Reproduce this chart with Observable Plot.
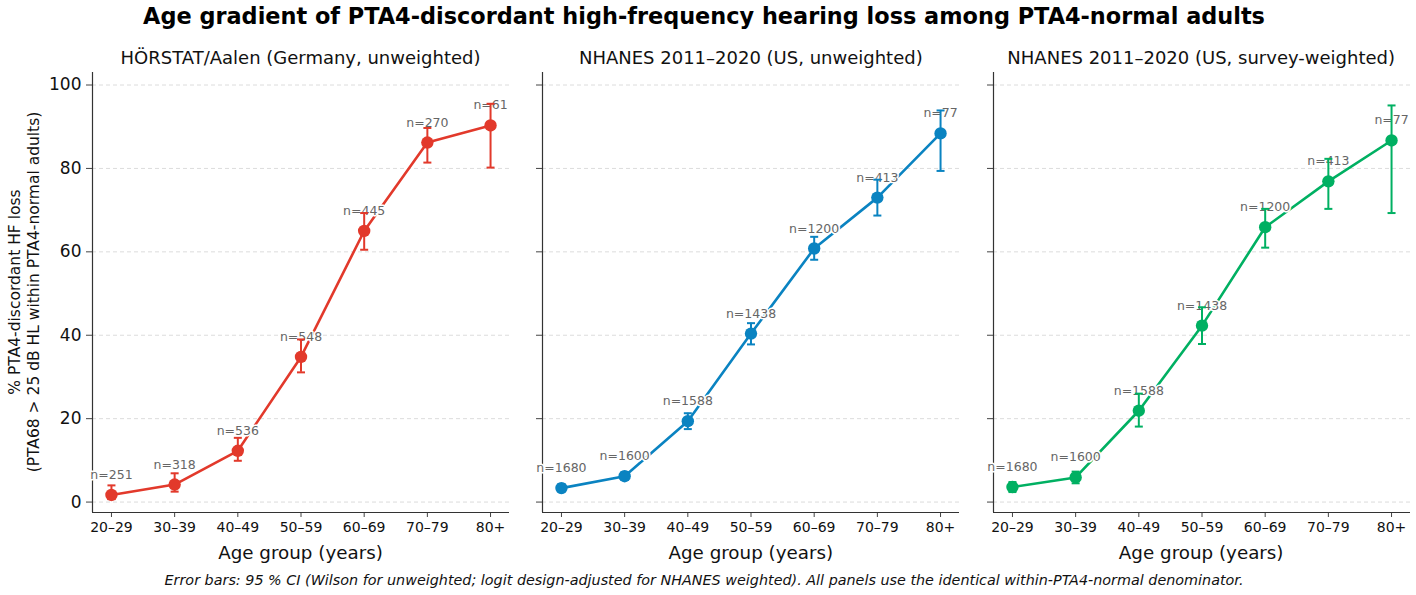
<!DOCTYPE html>
<html><head><meta charset="utf-8">
<script src="https://cdn.jsdelivr.net/npm/d3@7"></script>
<script src="https://cdn.jsdelivr.net/npm/@observablehq/plot@0.6"></script>
<style>
body{margin:0;background:#fff;font-family:"DejaVu Sans",sans-serif;}
#wrap{position:relative;width:1416px;height:595px;overflow:hidden;background:#fff;}
.abs{position:absolute;white-space:nowrap;transform:translate(-50%,-50%);color:#111;}
.panel{position:absolute;}
.panel svg{max-width:none !important;}
</style></head><body><div id="wrap"></div>
<script>
const ageGroups = ["20–29","30–39","40–49","50–59","60–69","70–79","80+"];
const hoerstatN = [251,318,536,548,445,270,61];
const hoerstatPct = [1.7, 4.2, 12.3, 34.8, 65.0, 86.2, 90.3];
const hoerstatLo  = [0.7, 2.5, 9.9, 31.1, 60.5, 81.4, 80.2];
const hoerstatHi  = [4.0, 6.9, 15.4, 39.0, 69.3, 89.7, 95.5];
const nhanesN = [1680,1600,1588,1438,1200,413,77];
const nhUnwPct = [3.35, 6.2, 19.4, 40.4, 60.8, 73.0, 88.4];
const nhUnwLo  = [2.6, 5.3, 17.5, 37.8, 58.1, 68.7, 79.4];
const nhUnwHi  = [4.3, 7.2, 21.3, 42.9, 63.6, 77.3, 93.9];
const nhWPct = [3.6, 5.9, 21.9, 42.3, 65.9, 76.9, 86.7];
const nhWLo  = [2.4, 4.5, 18.1, 37.9, 61.0, 70.3, 69.3];
const nhWHi  = [4.8, 7.3, 26.0, 46.7, 70.3, 82.3, 95.1];
const yTicks = [0,20,40,60,80,100];
const panelTitles = ["HÖRSTAT/Aalen (Germany, unweighted)","NHANES 2011–2020 (US, unweighted)","NHANES 2011–2020 (US, survey-weighted)"];
const panelColors = ["#e2392b","#0a83c1","#00b062"];
const mainTitle = "Age gradient of PTA4-discordant high-frequency hearing loss among PTA4-normal adults";
const xLabel = "Age group (years)";
const yLabel1 = "% PTA4-discordant HF loss";
const yLabel2 = "(PTA68 > 25 dB HL within PTA4-normal adults)";
const caption = "Error bars: 95 % CI (Wilson for unweighted; logit design-adjusted for NHANES weighted). All panels use the identical within-PTA4-normal denominator.";

const series = [
  {n: hoerstatN, pct: hoerstatPct, lo: hoerstatLo, hi: hoerstatHi},
  {n: nhanesN, pct: nhUnwPct, lo: nhUnwLo, hi: nhUnwHi},
  {n: nhanesN, pct: nhWPct, lo: nhWLo, hi: nhWHi}
];

const wrap = document.getElementById("wrap");
function addText(txt, cx, cy, style){
  const d = document.createElement("div");
  d.className = "abs";
  d.textContent = txt;
  d.style.left = cx + "px"; d.style.top = cy + "px";
  Object.assign(d.style, style||{});
  wrap.appendChild(d);
  return d;
}

const frameLefts = [92, 542.3, 992.7];
const frameW = 417, frameTop = 71.7, frameH = 440;
const mL = 50, mR = 6, mT = 10, mB = 30;
const xDomain = [-0.3, ageGroups.length - 1 + 0.3];
const yDomain = [-2.5, 103];

const capSymbol = {draw(ctx, size){ const r = Math.sqrt(size/Math.PI); ctx.moveTo(-r,0); ctx.lineTo(r,0); }};

series.forEach((s, p) => {
  const data = ageGroups.map((g,i)=>({i, age:g, n:s.n[i], pct:s.pct[i], lo:s.lo[i], hi:s.hi[i]}));
  const color = panelColors[p];
  const chart = Plot.plot({
    width: mL + frameW + mR,
    height: mT + frameH + mB,
    marginLeft: mL, marginRight: mR, marginTop: mT, marginBottom: mB,
    style: {fontFamily: "DejaVu Sans, sans-serif", background: "transparent", color: "#111", overflow: "visible"},
    x: {domain: xDomain},
    y: {domain: yDomain},
    marks: [
      Plot.gridY(yTicks, {stroke: "#d8d8d8", strokeOpacity: 1, strokeDasharray: "4,3", strokeWidth: 0.9}),
      Plot.axisY(yTicks, {tickSize: 6, tickPadding: 5, fontSize: 17, label: null, stroke: "#444",
        tickFormat: p === 0 ? d3.format("d") : () => ""}),
      Plot.axisX(d3.range(ageGroups.length), {tickSize: 5, tickPadding: 5, fontSize: 14, label: null, stroke: "#444",
        tickFormat: i => ageGroups[i]}),
      Plot.ruleX([xDomain[0]], {stroke: "#333", strokeWidth: 1.2}),
      Plot.ruleY([yDomain[0]], {stroke: "#333", strokeWidth: 1.2}),
      Plot.line(data, {x: "i", y: "pct", stroke: color, strokeWidth: 2.6}),
      Plot.text(data, {x: "i", y: "pct", text: d => "n=" + d.n, dy: -20, fill: "#666", fontSize: 12.5,
        stroke: "white", strokeWidth: 3}),
      Plot.ruleX(data, {x: "i", y1: "lo", y2: "hi", stroke: color, strokeWidth: 2}),
      Plot.dot(data, {x: "i", y: "lo", symbol: capSymbol, r: 4, stroke: color, strokeWidth: 2, fill: "none"}),
      Plot.dot(data, {x: "i", y: "hi", symbol: capSymbol, r: 4, stroke: color, strokeWidth: 2, fill: "none"}),
      Plot.dot(data, {x: "i", y: "pct", r: 6.2, fill: color, stroke: color, strokeWidth: 0})
    ]
  });
  const holder = document.createElement("div");
  holder.className = "panel";
  holder.style.left = (frameLefts[p] - mL) + "px";
  holder.style.top = (frameTop - mT) + "px";
  holder.style.width = (mL + frameW + mR) + "px";
  holder.appendChild(chart);
  wrap.appendChild(holder);
  addText(panelTitles[p], frameLefts[p] + frameW/2, 57, {fontSize: "18px"});
  addText(xLabel, frameLefts[p] + frameW/2, 552, {fontSize: "18.3px"});
});

addText(mainTitle, 704, 16, {fontSize: "22.4px", fontWeight: "bold", color: "#000"});
addText(caption, 704, 580, {fontSize: "14.35px", fontStyle: "italic"});
const yl = addText("", 25, 292, {fontSize: "15.5px", transform: "translate(-50%,-50%) rotate(-90deg)", textAlign: "center", lineHeight: "19px"});
yl.innerHTML = yLabel1 + "<br>" + yLabel2;
</script></body></html>
